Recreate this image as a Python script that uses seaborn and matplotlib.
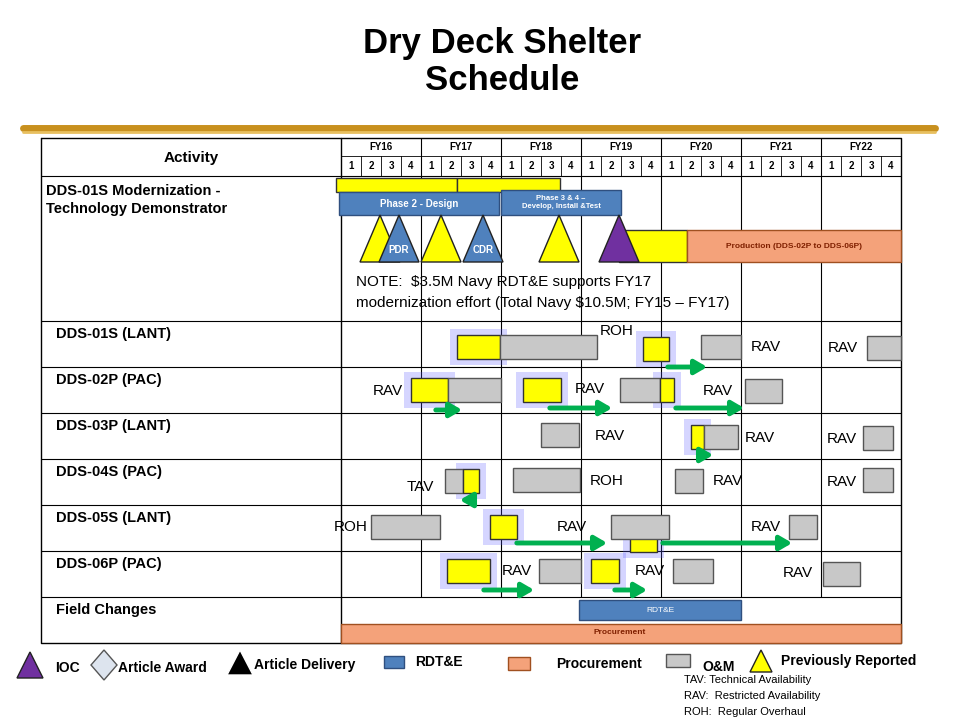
import matplotlib
matplotlib.use("Agg")
import matplotlib.pyplot as plt
import seaborn as sns
from matplotlib.patches import Rectangle, Polygon

sns.set_theme(style="white")
plt.rcParams['font.family'] = ['Liberation Sans', 'DejaVu Sans']
plt.rcParams['text.color'] = 'black'

# ---------- data (x in quarters from FY16 Q1, y in row pixels) ----------
fiscal_years = ['FY16', 'FY17', 'FY18', 'FY19', 'FY20', 'FY21', 'FY22']
activities = ['DDS-01S Modernization -\nTechnology Demonstrator', 'DDS-01S (LANT)', 'DDS-02P (PAC)',
              'DDS-03P (LANT)', 'DDS-04S (PAC)', 'DDS-05S (LANT)', 'DDS-06P (PAC)', 'Field Changes']
row_bounds = [176, 321, 367, 413, 459, 505, 551, 597, 643]

# (row y-center, start quarter, end quarter, kind)
bars = [
    (347, 5.8, 7.95, 'y'), (347, 7.95, 12.8, 'g'), (349, 15.1, 16.4, 'y'), (347, 18.0, 20.0, 'g'), (348, 26.3, 28.0, 'g'),
    (390, 3.5, 5.35, 'y'), (390, 5.35, 8.0, 'g'), (390, 9.1, 11.0, 'y'), (390, 13.95, 15.95, 'g'),
    (390, 15.95, 16.65, 'y'), (391, 20.2, 22.05, 'g'),
    (435, 10.0, 11.9, 'g'), (437, 17.5, 18.15, 'y'), (437, 18.15, 19.85, 'g'), (438, 26.1, 27.6, 'g'),
    (481, 5.2, 6.1, 'g'), (481, 6.1, 6.9, 'y'), (480, 8.6, 11.95, 'g'), (481, 16.7, 18.1, 'g'), (480, 26.1, 27.6, 'g'),
    (527, 1.5, 4.95, 'g'), (527, 7.45, 8.8, 'y'), (540, 14.45, 15.8, 'y'), (527, 13.5, 16.4, 'g'), (527, 22.4, 23.8, 'g'),
    (571, 5.3, 7.45, 'y'), (571, 9.9, 12.0, 'g'), (571, 12.5, 13.9, 'y'), (571, 16.6, 18.6, 'g'), (574, 24.1, 25.95, 'g'),
]
glow_idx = [0, 2, 5, 7, 9, 12, 16, 21, 22, 25, 27]

labels = [
    (13.8, 331, 'ROH'), (21.25, 347, 'RAV'), (25.1, 348, 'RAV'),
    (2.35, 391, 'RAV'), (12.45, 389, 'RAV'), (18.85, 391, 'RAV'),
    (13.45, 436, 'RAV'), (20.95, 438, 'RAV'), (25.05, 439, 'RAV'),
    (3.95, 487, 'TAV'), (13.3, 481, 'ROH'), (19.35, 481, 'RAV'), (25.05, 482, 'RAV'),
    (0.5, 527, 'ROH'), (11.55, 527, 'RAV'), (21.25, 527, 'RAV'),
    (8.8, 571, 'RAV'), (15.45, 571, 'RAV'), (22.85, 573, 'RAV'),
]
arrows = [
    (16.2, 18.45, 367), (4.6, 6.2, 410), (10.3, 13.7, 408), (16.6, 20.3, 408), (17.85, 18.75, 455),
    (6.7, 5.8, 500), (8.65, 13.45, 543), (15.95, 22.7, 543), (7.0, 9.8, 590), (13.55, 15.45, 590),
]
# milestones: (center quarter, kind, label)
triangles = [(1.95, 'y', ''), (5.0, 'y', ''), (10.9, 'y', ''), (2.9, 'b', 'PDR'), (7.1, 'b', 'CDR'), (13.9, 'p', '')]

COL = {'y': '#ffff00', 'g': '#c8c8c8', 'b': '#4f81bd', 'o': '#f4a27a', 'p': '#7030a0'}


def px(x):
    return (x - 341) / 20.0


fig = plt.figure(figsize=(9.6, 7.2), dpi=100)
ax = fig.add_axes([0, 0, 1, 1])
ax.set_xlim(px(0), px(960))
ax.set_ylim(720, 0)
ax.axis('off')


def box(q0, q1, y0, y1, fc, ec='#333333', lw=1.0, alpha=1.0, z=3):
    ax.add_patch(Rectangle((q0, y0), q1 - q0, y1 - y0, fc=fc, ec=ec, lw=lw, alpha=alpha, zorder=z))


# title
ax.text(px(502), 62, 'Dry Deck Shelter\nSchedule', ha='center', va='center', fontsize=25,
        fontweight='bold', linespacing=1.15)
ax.plot([px(23), px(935)], [128, 128], color='#c8901e', lw=5, zorder=2)
ax.plot([px(23), px(935)], [132, 132], color='#e8c060', lw=2, zorder=2)

# grid
ax.plot([px(41), px(901), px(901), px(41), px(41)], [138, 138, 643, 643, 138], color='black', lw=1)
ax.plot([0, 0], [138, 643], color='black', lw=1)
for i in range(1, 7):
    ax.plot([4 * i, 4 * i], [138, 597], color='black', lw=0.8)
for q in range(28):
    ax.plot([q, q], [156, 176], color='black', lw=0.6)
    ax.text(q + 0.5, 166, str(q % 4 + 1), ha='center', va='center', fontsize=7, fontweight='bold')
ax.plot([0, 28], [156, 156], color='black', lw=0.6)
for i, fy in enumerate(fiscal_years):
    ax.text(4 * i + 2, 147, fy, ha='center', va='center', fontsize=7, fontweight='bold')
ax.text(px(191), 158, 'Activity', ha='center', va='center', fontsize=11, fontweight='bold')
for yb in row_bounds[:-1]:
    ax.plot([px(41), px(901)], [yb, yb], color='black', lw=0.8)
for i, a in enumerate(activities):
    if i == 0:
        ax.text(px(46), 200, a, ha='left', va='center', fontsize=10.5, fontweight='bold', linespacing=1.3)
    else:
        ax.text(px(56), row_bounds[i] + 13, a, ha='left', va='center', fontsize=10.5, fontweight='bold')

# modernization row
box(px(336), px(457), 178, 192, COL['y'])
box(px(457), px(560), 178, 192, COL['y'])
box(px(339), px(499), 192, 215, COL['b'], ec='#2f4f7f')
ax.text(px(419), 204, 'Phase 2 - Design', ha='center', va='center', fontsize=7, color='white', fontweight='bold', zorder=5)
box(px(501), px(621), 190, 215, COL['b'], ec='#2f4f7f')
ax.text(px(561), 203, 'Phase 3 & 4 \u2013\nDevelop, Install &Test', ha='center', va='center', fontsize=5.5,
        color='white', fontweight='bold', zorder=5)
box(px(619), px(687), 230, 262, COL['y'])
box(px(687), px(901), 230, 262, COL['o'], ec='#a05020')
ax.text(px(794), 246, 'Production (DDS-02P to DDS-06P)', ha='center', va='center', fontsize=6, color='#802000',
        fontweight='bold', zorder=5)
for qc, kind, lab in triangles:
    ax.add_patch(Polygon([(qc - 1, 262), (qc + 1, 262), (qc, 215)], closed=True, fc=COL[kind],
                         ec='#222222', lw=1, zorder=4 if kind != 'y' else 3))
    if lab:
        ax.text(qc, 250, lab, ha='center', va='center', fontsize=7, color='white', fontweight='bold', zorder=5)
ax.text(px(356), 282, 'NOTE:  $3.5M Navy RDT&E supports FY17', fontsize=11, va='center')
ax.text(px(356), 303, 'modernization effort (Total Navy $10.5M; FY15 \u2013 FY17)', fontsize=11, va='center')

# activity bars
for i in glow_idx:
    y, q0, q1, k = bars[i]
    box(q0 - 0.35, q1 + 0.35, y - 18, y + 18, '#5b5bff', ec='none', alpha=0.25, z=2)
for y, q0, q1, k in bars:
    box(q0, q1, y - 12, y + 12, COL[k], ec='#333333' if k == 'y' else '#555555')
for q, y, t in labels:
    ax.text(q, y, t, ha='center', va='center', fontsize=11, zorder=6)
for q0, q1, y in arrows:
    ax.annotate('', xy=(q1, y), xytext=(q0, y),
                arrowprops=dict(arrowstyle='-|>,head_width=0.35,head_length=0.6', color='#00b050', lw=3.5), zorder=5)

# field changes
box(px(579), px(741), 600, 620, COL['b'], ec='#2f4f7f')
ax.text(px(660), 610, 'RDT&E', ha='center', va='center', fontsize=6, color='white', zorder=5)
box(px(341), px(901), 624, 643, COL['o'], ec='#a05020')
ax.text(px(620), 633, 'Procurement', ha='center', va='center', fontsize=6, color='#802000', fontweight='bold', zorder=5)

# legend
ax.add_patch(Polygon([(px(17), 678), (px(43), 678), (px(30), 652)], closed=True, fc=COL['p'], ec='#222222'))
ax.text(px(55), 668, 'IOC', fontsize=10, fontweight='bold', va='center')
ax.add_patch(Polygon([(px(104), 650), (px(117), 665), (px(104), 680), (px(91), 665)], closed=True,
                     fc='#dde4ee', ec='#555555'))
ax.text(px(118), 668, 'Article Award', fontsize=10, fontweight='bold', va='center')
ax.add_patch(Polygon([(px(227), 675), (px(253), 675), (px(240), 650)], closed=True, fc='black'))
ax.text(px(254), 665, 'Article Delivery', fontsize=10, fontweight='bold', va='center')
box(px(384), px(404), 656, 668, COL['b'], ec='#2f4f7f')
ax.text(px(415), 662, 'RDT&E', fontsize=10, fontweight='bold', va='center')
box(px(508), px(530), 657, 670, COL['o'], ec='#a05020')
ax.text(px(556), 664, 'Procurement', fontsize=10, fontweight='bold', va='center')
box(px(666), px(690), 654, 667, COL['g'], ec='#555555')
ax.text(px(702), 667, 'O&M', fontsize=10, fontweight='bold', va='center')
ax.add_patch(Polygon([(px(750), 672), (px(772), 672), (px(761), 650)], closed=True, fc=COL['y'], ec='#222222'))
ax.text(px(781), 661, 'Previously Reported', fontsize=10, fontweight='bold', va='center')
for yy, t in [(680, 'TAV: Technical Availability'), (696, 'RAV:  Restricted Availability'),
              (712, 'ROH:  Regular Overhaul')]:
    ax.text(px(684), yy, t, fontsize=8, va='center')

fig.savefig('out.png', dpi=100)
